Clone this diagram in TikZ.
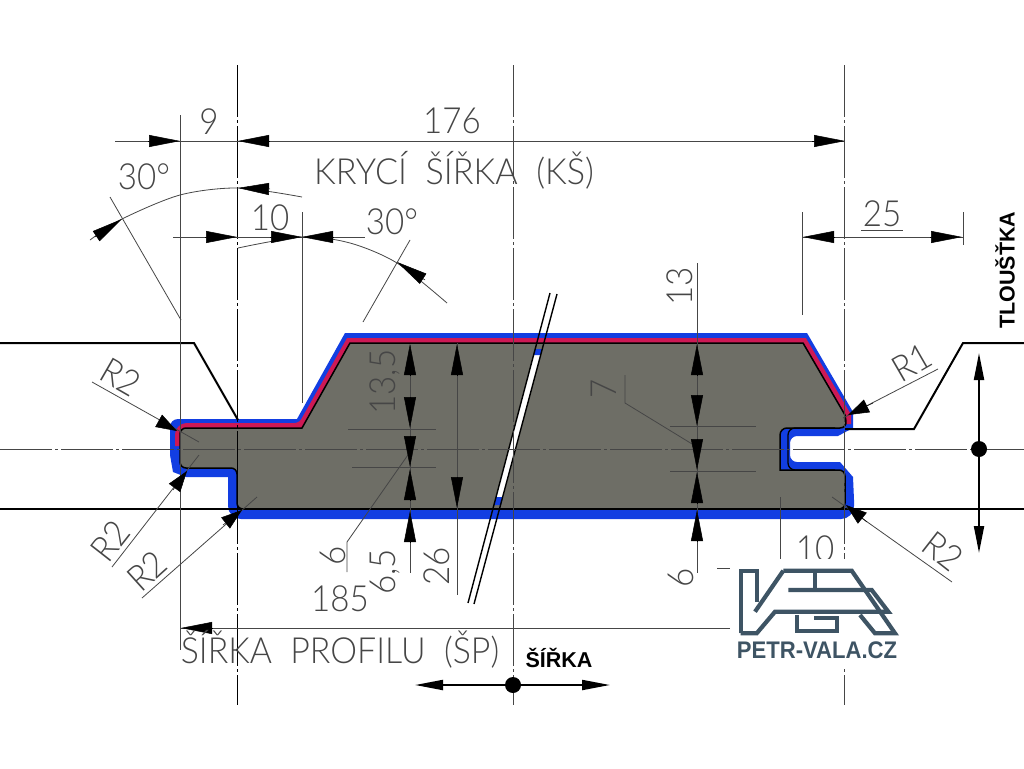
\documentclass[tikz,border=0pt]{standalone}
\usepackage{fontspec}
\setmainfont{Liberation Sans}
\newfontfamily\cad{Lato Light}
\usetikzlibrary{arrows.meta,positioning}
\definecolor{profgray}{RGB}{110,110,102}
\definecolor{profblue}{RGB}{18,62,226}
\definecolor{profred}{RGB}{205,25,85}
\definecolor{cadgray}{RGB}{70,70,70}
\definecolor{logoslate}{RGB}{62,84,100}
\begin{document}
\begin{tikzpicture}[
  x=1pt, y=-1pt,
  dimline/.style={draw=cadgray, line width=0.8pt},
  heavyline/.style={draw=black, line width=2pt},
  centerline/.style={draw=cadgray, line width=0.9pt, dash pattern=on 52pt off 3pt on 3pt off 3pt},
  headtip/.style={line width=0.5pt, -{Triangle[length=31pt,width=12pt]}},
  shorttip/.style={line width=0.5pt, -{Triangle[length=21pt,width=14pt]}},
  cadtext/.style={font=\cad\fontsize{36}{36}\selectfont, text=cadgray, inner sep=0pt, xscale=0.92},
  cadwidetext/.style={font=\cad\fontsize{36}{36}\selectfont, text=cadgray, inner sep=0pt},
  boldtext/.style={font=\bfseries\fontsize{21.5}{21.5}\selectfont, text=black, inner sep=0pt},
  logoline/.style={draw=logoslate, line width=4.2pt, miter limit=6}
  ]
\useasboundingbox (0,0) rectangle (1024,768);
\fill[white] (0,0) rectangle (1024,768);

% blue coat
\fill[profblue] (297,419) -- (345,333) -- (807,333) -- (853,412) -- (853,428)
    -- (838,436) [rounded corners=7pt] -- (790,436) -- (790,462) [sharp corners] -- (840,462)
    -- (853,477) -- (854,500) [rounded corners=13pt] -- (854,519) -- (228,519) [sharp corners]
    -- (228,477) -- (186,477) -- (173,472) -- (170,455) -- (170,436) [rounded corners=8pt]
    -- (170,419) [sharp corners] -- cycle;
% red coat
\draw[profred, line width=10pt] (180,446) [rounded corners=7pt] -- (180,428) -- (302,428) [sharp corners]
    -- (350,343) -- (803,343) -- (846,416) -- (846,424);
% profile
\draw[fill=profgray, draw=black, line width=1.5pt] (302,428) -- (350,343) -- (803,343) -- (845,415)
    [rounded corners=7pt] -- (847,428) -- (780,428) [sharp corners] -- (780,470)
    [rounded corners=6pt] -- (845,470) -- (845,509) -- (237,509) -- (237,468) -- (180,468)
    -- (180,428) [sharp corners] -- cycle;
\draw[black, line width=1.3pt] (835,428) [rounded corners=7pt] -- (788,428) -- (788,470) [sharp corners] -- (835,470);

% break
\fill[white] (533.6,355) -- (540.6,355) -- (503,497) -- (496,497) -- cycle;
\fill[profblue] (535,349) -- (542,349) -- (540.6,355) -- (533.6,355) -- cycle;
\fill[profblue] (496,497) -- (503,497) -- (501,505) -- (494,505) -- cycle;
\draw[black, line width=1.4pt] (550,293) -- (468,603);
\draw[black, line width=1.4pt] (557,294) -- (474,604);

% neighbours
\draw[heavyline] (0,343) -- (194,343) -- (238,420);
\draw[heavyline] (845,429) -- (914,429) -- (963,343) -- (1024,343);
\draw[heavyline] (0,509) -- (1024,509);

% axes
\draw[centerline] (0,449) -- (1024,449);
\draw[centerline, draw=black] (237,65) -- (237,705);
\draw[centerline] (513,65) -- (513,705);
\draw[centerline] (844,65) -- (844,705);

% extension and dimension lines
\draw[dimline] (180,115) -- (180,650);
\draw[dimline] (115,141) -- (845,141);
\draw[dimline] (173,237) -- (365,237);
\draw[dimline] (302,212) -- (302,403);
\draw[dimline] (802,212) -- (802,315);
\draw[dimline] (802,237) -- (963,237);
\draw[dimline] (963,212) -- (963,245);
\draw[dimline] (180,628) -- (730,628);
\draw[dimline] (861,230) -- (903,230);
\draw[dimline] (110,197) -- (181,320);
\draw[dimline] (410,240) -- (363,322);
\draw[dimline] plot[smooth] coordinates {(90,240) (122,219) (180,195) (238,188) (302,197)};
\draw[dimline] plot[smooth] coordinates {(238,248) (302,237) (350,243) (397,263) (447,303)};
\draw[dimline] (410,345) -- (410,573);
\draw[dimline] (348,429) -- (436,429);
\draw[dimline] (352,467) -- (436,467);
\draw[dimline] (457,343) -- (457,595);
\draw[dimline] (410,452) -- (347,542) -- (347,572);
\draw[dimline] (697,263) -- (697,573);
\draw[dimline] (670,426) -- (756,426);
\draw[dimline] (670,471) -- (756,471);
\draw[dimline] (697,447) -- (625,403) -- (625,375);
\draw[dimline] (717,568) -- (730,568);
\draw[dimline] (780,497) -- (780,560);
% radius leaders
\draw[dimline] (92,382) -- (199,442);
\draw[dimline] (112,567) -- (199,455);
\draw[dimline] (142,598) -- (257,497);
\draw[dimline] (938,369) -- (843,418);
\draw[dimline] (952,582) -- (832,497);

% arrowheads
\foreach \bx/\by/\tx/\ty in {
  148/141/180/141, 270/141/238/141, 812/141/845/141,
  205/237/237/237, 270/237/302/237, 333/237/302/237,
  835/237/803/237, 930/237/962/237,
  270/189/238/188, 95/237/122/219, 425/280/397/262,
  410/375/410/344, 410/397/410/428, 410/436/410/467, 410/500/410/469, 410/542/410/511,
  457/375/457/344, 457/477/457/508,
  697/375/697/344, 697/395/697/426, 697/439/697/470, 697/503/697/472, 697/541/697/510,
  212/628/181/628}{
  \draw[headtip] (\bx,\by) -- (\tx,\ty);
}
\foreach \bx/\by/\tx/\ty in {
  159/421/177/431, 173/490/187/471, 223/525/242/510,
  873/403/848/415, 867/522/846/505}{
  \draw[shorttip] (\bx,\by) -- (\tx,\ty);
}

% orientation arrows
\draw[black, line width=2pt, {Triangle[length=27pt,width=10pt]}-{Triangle[length=27pt,width=10pt]}] (979,353) -- (979,553);
\fill[black] (979,449) circle (8);
\draw[black, line width=2pt, {Triangle[length=28pt,width=10pt]}-{Triangle[length=28pt,width=10pt]}] (415,685) -- (610,685);
\fill[black] (513,685) circle (8);

% dimension texts
\node[cadtext] (txtNine) at (209,122) {9};
\node[cadtext] (txtCover) at (452,121) {176};
\node[cadwidetext, xscale=0.95] (txtKrytka) at (454,170) {KRYCÍ\ \ ŠÍŘKA\ \ (KŠ)};
\node[cadtext] (txtAngleA) at (144,177) {30°};
\node[cadtext] (txtTen) at (270,218) {10};
\node[cadtext] (txtAngleB) at (392,222) {30°};
\node[cadtext] (txtTwentyFive) at (882,214) {25};
\node[rotate=90, cadtext] (txtThirteen) at (680,286) {13};
\node[rotate=90, cadtext] (txtSeven) at (604,389) {7};
\node[rotate=90, cadtext] (txtThirteenFive) at (385,382) {13,5};
\node[rotate=90, cadtext] (txtSixFive) at (385,572) {6,5};
\node[rotate=90, cadtext] (txtTwentySix) at (437,566) {26};
\node[rotate=90, cadtext] (txtSixA) at (333,556) {6};
\node[rotate=90, cadtext] (txtSixB) at (681,578) {6};
\node[cadtext] (txtProfile) at (340,599) {185};
\node[cadwidetext, xscale=0.94] (txtSirka) at (340,649) {ŠÍŘKA\ \ PROFILU\ \ (ŠP)};
\node[cadtext] (txtTenLow) at (815,549) {10};
\node[rotate=-30, cadtext] (txtRa) at (121,377) {R2};
\node[rotate=52, cadtext] (txtRb) at (110,541) {R2};
\node[rotate=42, cadtext] (txtRc) at (147,571) {R2};
\node[rotate=30, cadtext] (txtRd) at (912,363) {R1};
\node[rotate=-38, cadtext] (txtRe) at (943,551) {R2};
\node[boldtext] (txtWidth) at (559,658) {ŠÍŘKA};
\node[rotate=90, boldtext] (txtThickness) at (1005,270) {TLOUŠŤKA};

% logo
\fill[white] (733,559) rectangle (905,668);
\draw[logoline] (740.7,633.3) -- (740.7,570.7) -- (757.3,570.7) -- (757.3,601.7);
\draw[logoline] (783.3,570.7) -- (755,611.7);
\draw[logoline] (740.7,633.3) -- (756.7,633.3) -- (775,611.7) -- (888.3,611.7) -- (871.7,590) -- (788.3,590);
\draw[logoline] (783.3,570.7) -- (851.7,570.7) -- (895,633.3) -- (875,633.3) -- (860,615);
\draw[logoline] (815,570.7) -- (815,590);
\draw[logoline] (796.7,615) -- (796.7,630.7) -- (836.7,630.7) -- (836.7,618.3) -- (814,618.3);
\node[font=\bfseries\fontsize{24}{24}\selectfont, text=logoslate, inner sep=0pt, xscale=0.92] (txtLogo) at (817,650) {PETR-VALA.CZ};
\end{tikzpicture}
\end{document}
